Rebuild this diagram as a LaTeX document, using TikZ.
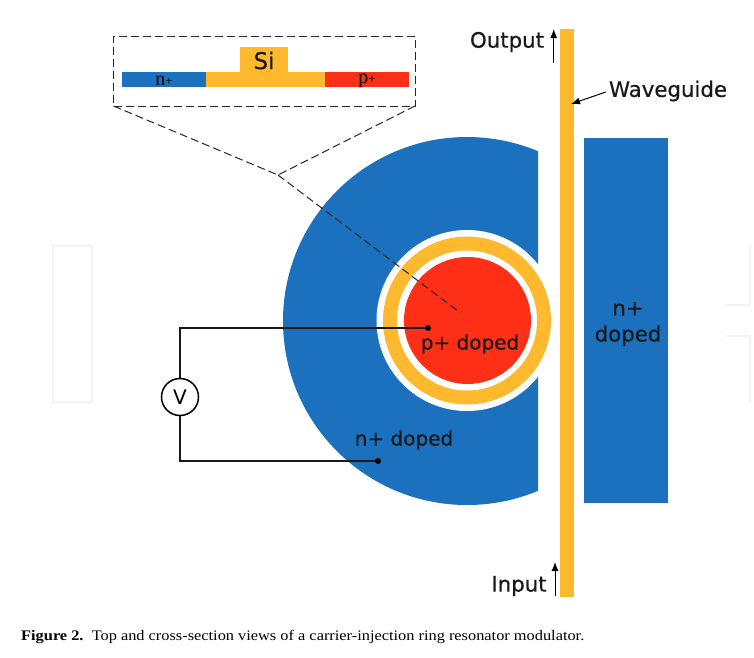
\documentclass[tikz,border=0pt]{standalone}
\usepackage{fontspec}
\setmainfont{Liberation Serif}
\newfontfamily\labelfont[FakeBold=0.5]{DejaVu Sans}
\newfontfamily\plainfont{DejaVu Sans}
\newfontfamily\captionfont[FakeStretch=1.12]{Liberation Serif}
\usetikzlibrary{positioning,arrows.meta}
\definecolor{nblue}{HTML}{1B71BD}
\definecolor{siyellow}{HTML}{FEB92E}
\definecolor{pred}{HTML}{FE2F17}
\definecolor{faint}{HTML}{F3F3F3}

\begin{document}
\begin{tikzpicture}[x=1pt,y=-1pt]
\tikzstyle{disc}=[circle,inner sep=0pt,outer sep=0pt]
\tikzstyle{bar}=[rectangle,inner sep=0pt,outer sep=0pt,anchor=north west]
\tikzstyle{lbl}=[inner sep=0pt,font=\labelfont\fontsize{20}{26}\selectfont,text=black!90]
\tikzstyle{biglbl}=[lbl,font=\labelfont\fontsize{21.3}{26}\selectfont]
\tikzstyle{sect}=[inner sep=0pt,font=\fontsize{20}{22}\selectfont]
\tikzstyle{zoomline}=[dash pattern=on 8pt off 4pt,line width=1pt,black!85]
\tikzstyle{wire}=[line width=1.5pt,black!90]
\tikzstyle{contact}=[circle,fill=black,inner sep=0pt,minimum size=6pt]
\tikzstyle{flow}=[-{Latex[length=9pt,width=7pt]},line width=1pt]
\useasboundingbox (0,0) rectangle (754,657);
% faint marks behind the figure
\draw[faint,line width=2pt] (53,246) rectangle (92,402);
\draw[faint,line width=2pt] (727,305) -- (750,305) -- (750,245);
\draw[faint,line width=2pt] (727,336) -- (750,336) -- (750,402);
% top view
\begin{scope}
\clip (270,130) rectangle (538,510);
\fill[nblue] (467,321) circle (184);
\end{scope}
\node[disc,fill=white,minimum size=181pt] (gap) at (467,320.5) {};
\node[disc,fill=siyellow,minimum size=168pt] (ring) at (467,320.5) {};
\node[disc,fill=white,minimum size=140pt] (gapin) at (467,320.5) {};
\node[disc,fill=pred,minimum size=127pt] (core) at (467.5,320.5) {};
\node[bar,fill=siyellow,minimum width=14pt,minimum height=568pt] (guide) at (560,29) {};
\node[bar,fill=nblue,minimum width=84pt,minimum height=365pt] (slab) at (584,138) {};
\node[biglbl,align=center] (slabtext) at (628,324) {n+\\doped};
\node[lbl] (ptext) at (470,344) {p+ doped};
\node[lbl] (ntext) at (404,440) {n+ doped};
% circuit
\node[contact] (pdot) at (428,328) {};
\node[contact] (ndot) at (378,461) {};
\node[circle,draw,line width=1.5pt,fill=white,minimum size=37pt,inner sep=0pt,font=\plainfont\fontsize{20}{20}\selectfont] (volt) at (180,397) {V};
\draw[wire] (volt) |- (pdot);
\draw[wire] (volt) |- (ndot);
% cross section
\node[bar,fill=nblue,minimum width=84pt,minimum height=15pt] (nbar) at (122,72) {};
\node[bar,fill=siyellow,minimum width=119pt,minimum height=15pt] (sibar) at (206,72) {};
\node[bar,fill=pred,minimum width=84pt,minimum height=15pt] (pbar) at (325,72) {};
\node[bar,fill=siyellow,minimum width=48pt,minimum height=25pt] (rib) at (240,47) {};
\node[biglbl,font=\labelfont\fontsize{23}{26}\selectfont] at ([yshift=-1pt]rib.center) {Si};
\node[sect] at ([yshift=-1pt]nbar.center) {n{\fontsize{13}{13}\selectfont+}};
\node[sect] at ([yshift=-1pt]pbar.center) {p{\fontsize{13}{13}\selectfont+}};
\node[draw,zoomline,rectangle,inner sep=0pt,outer sep=0pt,minimum width=301.5pt,minimum height=70pt,anchor=north west] (inset) at (113.5,36) {};
\coordinate (fork) at (278,175);
\coordinate (aim) at (458,311);
\draw[zoomline] (inset.south west) -- (fork);
\draw[zoomline] (inset.south east) -- (fork);
\draw[zoomline] (fork) -- (aim);
% waveguide labels
\node[biglbl] (wtext) at (668,91) {Waveguide};
\node[biglbl] (outtext) at (507,42) {Output};
\node[biglbl] (intext) at (519,586) {Input};
\coordinate (wtip) at (571,104);
\coordinate (outa) at (553.7,63);
\coordinate (outb) at (553.7,29);
\coordinate (ina) at (555,596);
\coordinate (inb) at (555,562);
\draw[flow] (wtext.west) ++(-3,1) -- (wtip);
\draw[flow] (outa) -- (outb);
\draw[flow] (ina) -- (inb);
% caption
\node[anchor=west,inner sep=0pt,font=\captionfont\fontsize{14.6}{16}\selectfont] (caption) at (21,636.5) {\textbf{Figure 2.}\ \ Top and cross-section views of a carrier-injection ring resonator modulator.};
\end{tikzpicture}
\end{document}
